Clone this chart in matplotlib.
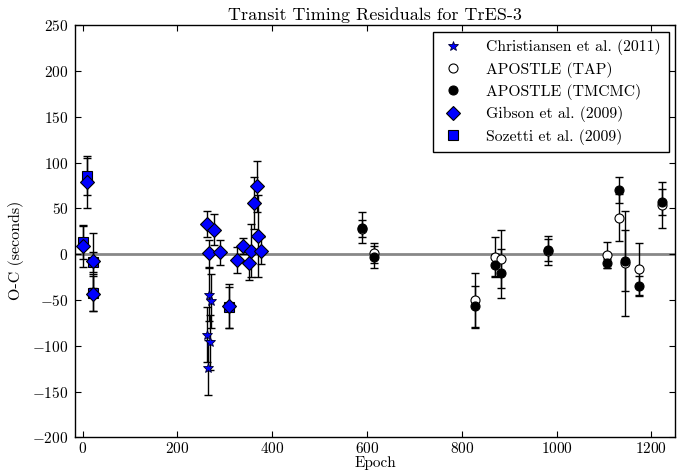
# -*- coding: utf-8 -*-
"""
TrES-3 transit timing residuals (O-C) vs epoch.
"""
import matplotlib
matplotlib.use("Agg")
import matplotlib.pyplot as plt
from matplotlib import rcParams

# ============================================================
# data
# ============================================================
# Christiansen et al. (2011)
chr_epoch = [263, 264, 266, 269, 270]
chr_oc    = [-88, -124, -44, -96, -51]
chr_err   = [30, 30, 29, 30, 29]

# APOSTLE (TAP)
tap_epoch = [590, 614, 827, 869, 882, 982, 1106, 1132, 1145, 1173, 1222]
tap_oc    = [28, 1, -50, -3, -5, 4, -1, 40, -10, -16, 54]
tap_err   = [9, 11, 30, 22, 32, 16, 14, 26, 57, 28, 25]

# APOSTLE (TMCMC)
mc_epoch = [590, 614, 827, 869, 882, 982, 1106, 1132, 1145, 1173, 1222]
mc_oc    = [29, -3, -57, -12, -21, 5, -10, 70, -7, -35, 57]
mc_err   = [17, 12, 22, 12, 27, 12, 5, 14, 33, 11, 14]

# Gibson et al. (2009)
gib_epoch = [0, 10, 22, 22, 263, 266, 278, 291, 308, 326, 338, 352, 356, 361, 367, 370, 377]
gib_oc    = [9, 79, -7, -43, 33, 1, 27, 2, -57, -6, 9, -10, 4, 56, 74, 20, 4]
gib_err   = [23, 28, 30, 19, 14, 15, 17, 14, 24, 14, 9, 18, 29, 28, 28, 45, 15]

# Sozetti et al. (2009)
soz_epoch = [0, 10, 22, 22, 308]
soz_oc    = [13, 85, -8, -42, -58]
soz_err   = [18, 20, 11, 20, 22]

# ============================================================
# style — classic matplotlib + Computer Modern
# ============================================================
rcParams.update({
    "font.family":        "serif",
    "font.serif":         ["cmr10", "DejaVu Serif"],
    "mathtext.fontset":   "cm",
    "axes.formatter.use_mathtext": True,
    "font.size":          11,
    "axes.linewidth":     1.0,
    "xtick.direction":    "in",
    "ytick.direction":    "in",
    "xtick.top":          True,
    "ytick.right":        True,
    "xtick.major.size":   4,
    "ytick.major.size":   4,
    "xtick.major.pad":    2.5,
    "ytick.major.pad":    5,
    "legend.fontsize":    11.3,
})

fig = plt.figure(figsize=(6.88, 4.71), dpi=100)
ax = fig.add_axes([0.1096, 0.0713, 0.9814 - 0.1096, 0.9463 - 0.0713])

ax.axhline(0, color="#888888", lw=2.0, zorder=1)

eb = dict(fmt="none", ecolor="black", elinewidth=1.0, capsize=3, capthick=1.0, zorder=2)
series = [
    (chr_epoch, chr_oc, chr_err, dict(marker="*", ms=7, mfc="#0000ff", mec="#000033", mew=0.6),
     "Christiansen et al. (2011)", 3),
    (tap_epoch, tap_oc, tap_err, dict(marker="o", ms=6.5, mfc="white", mec="black", mew=0.8),
     "APOSTLE (TAP)", 3),
    (mc_epoch, mc_oc, mc_err, dict(marker="o", ms=6.5, mfc="black", mec="black", mew=0.8),
     "APOSTLE (TMCMC)", 4),
    (gib_epoch, gib_oc, gib_err, dict(marker="D", ms=7, mfc="#0000ff", mec="black", mew=0.8),
     "Gibson et al. (2009)", 6),
    (soz_epoch, soz_oc, soz_err, dict(marker="s", ms=6.5, mfc="#0000ff", mec="black", mew=0.8),
     "Sozetti et al. (2009)", 5),
]
for x, y, e, mk, label, z in series:
    ax.errorbar(x, y, yerr=e, **eb)
    ax.plot(x, y, ls="none", label=label, zorder=z, **mk)

ax.set_xlim(-15, 1250)
ax.set_ylim(-200, 250)
ax.set_xticks(range(0, 1201, 200))
ax.set_yticks(range(-200, 251, 50))

ax.set_title("Transit Timing Residuals for TrES-3", fontsize=13, pad=4)
ax.set_xlabel("Epoch", fontsize=11, labelpad=0)
ax.set_ylabel("O-C (seconds)", fontsize=11.5)
ax.yaxis.set_label_coords(-0.085, 0.455)

leg = ax.legend(loc="upper right", numpoints=1, fancybox=False, framealpha=1,
                edgecolor="black", borderpad=0.5, labelspacing=0.4,
                handlelength=1.6, handletextpad=1.3, borderaxespad=0.4)
leg.get_frame().set_linewidth(1.0)

fig.savefig("out.png", dpi=100)
